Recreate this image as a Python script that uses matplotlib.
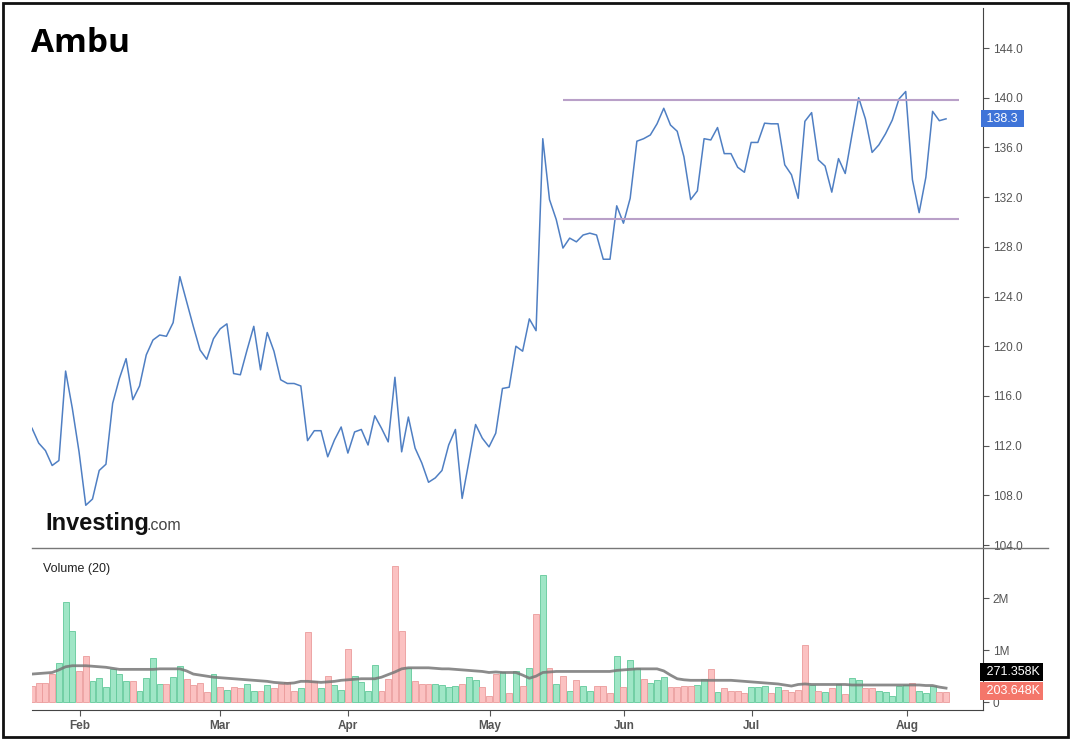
import numpy as np
import matplotlib.pyplot as plt
from matplotlib.lines import Line2D
from matplotlib.patches import Rectangle

# daily closes (trading days, late Jan -> early Aug)
close = [113.4, 112.2, 111.6, 110.4, 110.8, 118.0, 115.0, 111.5, 107.2, 107.7,
         110.0, 110.5, 115.4, 117.4, 119.0, 115.7, 116.8, 119.3, 120.5, 120.9,
         120.8, 121.9, 125.6, 123.6, 121.6, 119.7, 118.95, 120.6, 121.4, 121.8,
         117.8, 117.7, 119.7, 121.6, 118.1, 121.1, 119.6, 117.3, 117.0, 117.0,
         116.8, 112.4, 113.2, 113.2, 111.1, 112.45, 113.5, 111.4, 113.1, 113.3,
         112.05, 114.4, 113.4, 112.3, 117.5, 111.5, 114.3, 111.8, 110.6, 109.05,
         109.4, 110.0, 112.05, 113.3, 107.75, 110.7, 113.7, 112.6, 111.9, 113.0,
         116.6, 116.7, 120.0, 119.6, 122.2, 121.25, 136.7, 131.8, 130.2, 127.9,
         128.7, 128.4, 128.95, 129.1, 128.95, 127.0, 127.0, 131.3, 129.9, 131.9,
         136.5, 136.7, 137.0, 137.9, 139.15, 137.8, 137.3, 135.25, 131.8, 132.5,
         136.7, 136.6, 137.6, 135.5, 135.5, 134.4, 134.0, 136.4, 136.4, 137.95,
         137.9, 137.9, 134.6, 133.8, 131.9, 138.1, 138.8, 135.0, 134.5, 132.4,
         135.1, 133.9, 137.0, 140.0, 138.3, 135.6, 136.2, 137.1, 138.2, 139.9,
         140.5, 133.4, 130.75, 133.6, 138.9, 138.15, 138.3]

# volume in millions
volume = [0.32, 0.37, 0.37, 0.54, 0.76, 1.93, 1.37, 0.59, 0.89, 0.40,
          0.47, 0.29, 0.64, 0.54, 0.40, 0.40, 0.22, 0.46, 0.85, 0.35,
          0.35, 0.49, 0.70, 0.44, 0.33, 0.37, 0.19, 0.54, 0.29, 0.24,
          0.29, 0.27, 0.35, 0.22, 0.22, 0.33, 0.27, 0.35, 0.38, 0.22,
          0.27, 1.34, 0.40, 0.27, 0.50, 0.33, 0.24, 1.02, 0.50, 0.38,
          0.22, 0.72, 0.22, 0.45, 2.62, 1.37, 0.66, 0.40, 0.35, 0.35,
          0.35, 0.33, 0.29, 0.31, 0.35, 0.49, 0.42, 0.29, 0.11, 0.54,
          0.57, 0.18, 0.59, 0.32, 0.66, 1.69, 2.45, 0.66, 0.35, 0.51,
          0.22, 0.42, 0.32, 0.22, 0.32, 0.32, 0.18, 0.89, 0.29, 0.81,
          0.66, 0.45, 0.37, 0.42, 0.48, 0.29, 0.29, 0.32, 0.31, 0.33,
          0.45, 0.64, 0.20, 0.27, 0.22, 0.22, 0.18, 0.29, 0.29, 0.32,
          0.18, 0.30, 0.24, 0.20, 0.24, 1.10, 0.33, 0.22, 0.20, 0.27,
          0.35, 0.16, 0.46, 0.42, 0.27, 0.27, 0.22, 0.20, 0.11, 0.32,
          0.33, 0.37, 0.22, 0.18, 0.32, 0.20, 0.204]

# u = green bar, d = red bar (10 days per chunk)
bar_dir = "".join(["dddduuuddu", "uuuuuduuuu", "duuddddudu", "dduududddd",
                   "udduduuduu", "uudddduddd", "uuuuduuddd", "ududududud",
                   "uduudddudu", "uduuuddddu", "ududddduuu", "duddddudud",
                   "uduudduuuu", "uduuudd"])

# 20-day volume average (millions), as drawn
vol_ma = [0.54, 0.55, 0.56, 0.57, 0.62, 0.68, 0.70, 0.70, 0.70, 0.69,
          0.68, 0.67, 0.65, 0.63, 0.63, 0.63, 0.63, 0.63, 0.63, 0.64,
          0.64, 0.64, 0.64, 0.60, 0.54, 0.52, 0.50, 0.48, 0.47, 0.46,
          0.45, 0.44, 0.43, 0.42, 0.41, 0.40, 0.38, 0.37, 0.36, 0.37,
          0.40, 0.40, 0.39, 0.38, 0.39, 0.40, 0.42, 0.43, 0.44, 0.45,
          0.45, 0.45, 0.48, 0.53, 0.58, 0.64, 0.66, 0.66, 0.66, 0.66,
          0.65, 0.64, 0.64, 0.63, 0.62, 0.61, 0.60, 0.59, 0.57, 0.58,
          0.57, 0.57, 0.57, 0.52, 0.46, 0.50, 0.57, 0.58, 0.59, 0.59,
          0.59, 0.59, 0.59, 0.59, 0.59, 0.59, 0.59, 0.61, 0.62, 0.63,
          0.64, 0.64, 0.64, 0.64, 0.60, 0.52, 0.45, 0.43, 0.42, 0.42,
          0.42, 0.42, 0.42, 0.42, 0.42, 0.41, 0.40, 0.39, 0.38, 0.37,
          0.36, 0.35, 0.33, 0.31, 0.34, 0.35, 0.34, 0.34, 0.34, 0.34,
          0.34, 0.34, 0.33, 0.33, 0.33, 0.33, 0.33, 0.33, 0.33, 0.33,
          0.33, 0.33, 0.33, 0.32, 0.32, 0.29, 0.27]

months = ["Feb", "Mar", "Apr", "May", "Jun", "Jul", "Aug"]
month_pos = [7.1, 28.0, 47.0, 68.1, 88.1, 107.1, 130.2]

channel_top = 139.85
channel_bottom = 130.2
channel_start, channel_end = 79, 138

last_price = "138.3"
last_ma = "271.358K"
last_vol = "203.648K"

plt.rcParams['font.family'] = ['Liberation Sans', 'DejaVu Sans']

W, H = 1074, 740
fig = plt.figure(figsize=(W / 100, H / 100), dpi=100)

def px(x0, y0, x1, y1):
    return [x0 / W, 1 - y1 / H, (x1 - x0) / W, (y1 - y0) / H]

ax = fig.add_axes(px(32, 8, 983, 548))
axv = fig.add_axes(px(32, 548, 983, 710), sharex=ax)

x = np.arange(len(close))
ax.plot(x, close, color='#4f7fc3', lw=1.1)
ax.hlines([channel_top, channel_bottom], channel_start, channel_end,
          color='#b9a0c8', lw=1.5)
ax.set_xlim(0, 141.5)
ax.set_ylim(103.76, 147.22)

ax.yaxis.tick_right()
ax.set_yticks(np.arange(104, 145, 4))
ax.set_yticklabels([f"{v:.1f}" for v in np.arange(104, 145, 4)])
for s in ['left', 'top', 'bottom']:
    ax.spines[s].set_visible(False)
ax.spines['right'].set_color('#444444')
ax.tick_params(axis='y', colors='#555555', labelsize=8.5, length=4, pad=3)
ax.tick_params(axis='x', bottom=False, labelbottom=False)
ax.text(1.0, float(last_price), " " + last_price + " ", transform=ax.get_yaxis_transform(),
        ha='left', va='center', color='white', fontsize=9,
        bbox=dict(boxstyle='square,pad=0.2', fc='#3f74d8', ec='none'))

# volume panel
up = np.array([c == 'u' for c in bar_dir])
vol = np.array(volume)
axv.bar(x[up], vol[up], width=0.88, color='#9fe6c6', edgecolor='#62c99a', lw=0.6)
axv.bar(x[~up], vol[~up], width=0.88, color='#fbc1c1', edgecolor='#eb9b9b', lw=0.6)
axv.plot(x, vol_ma, color='#777777', lw=2, alpha=0.85)
axv.set_ylim(-0.15, 2.96)
axv.yaxis.tick_right()
axv.set_yticks([0, 1, 2])
axv.set_yticklabels(["0", "1M", "2M"])
for s in ['left', 'top']:
    axv.spines[s].set_visible(False)
axv.spines['right'].set_color('#444444')
axv.spines['bottom'].set_color('#444444')
axv.tick_params(axis='y', colors='#555555', labelsize=8.5, length=4, pad=3)
axv.set_xticks(month_pos)
axv.set_xticklabels(months, fontweight='bold')
axv.tick_params(axis='x', colors='#555555', labelsize=8.5, length=4, pad=3)
axv.text(0.012, 0.85, "Volume (20)", transform=axv.transAxes, fontsize=9,
         color='#222222')
axv.text(1.0, (710 - 672) / 162, " " + last_ma, transform=axv.transAxes,
         ha='left', va='center', color='white', fontsize=9,
         bbox=dict(boxstyle='square,pad=0.25', fc='black', ec='none'))
axv.text(1.0, (710 - 691) / 162, " " + last_vol, transform=axv.transAxes,
         ha='left', va='center', color='white', fontsize=9,
         bbox=dict(boxstyle='square,pad=0.25', fc='#f4766a', ec='none'))

# separator between panels
fig.add_artist(Line2D([32 / W, 1048 / W], [1 - 548 / H] * 2, color='#777777', lw=1))

# title and logo
fig.text(31 / W, 1 - 44 / H, "Ambu", fontsize=24, fontweight='bold',
         family=['Open Sans', 'DejaVu Sans'], va='center', ha='left')
fig.text(45 / W, 1 - 530 / H, "Investing", fontsize=17, fontweight='bold',
         color='#111111', va='baseline', ha='left')
fig.text(146 / W, 1 - 530 / H, ".com", fontsize=11.5, color='#444444',
         va='baseline', ha='left')

# outer frame
fig.add_artist(Rectangle((3 / W, 3 / H), 1065 / W, 734 / H, transform=fig.transFigure,
                         fill=False, ec='#111111', lw=2))

fig.savefig("out.png", dpi=100)
